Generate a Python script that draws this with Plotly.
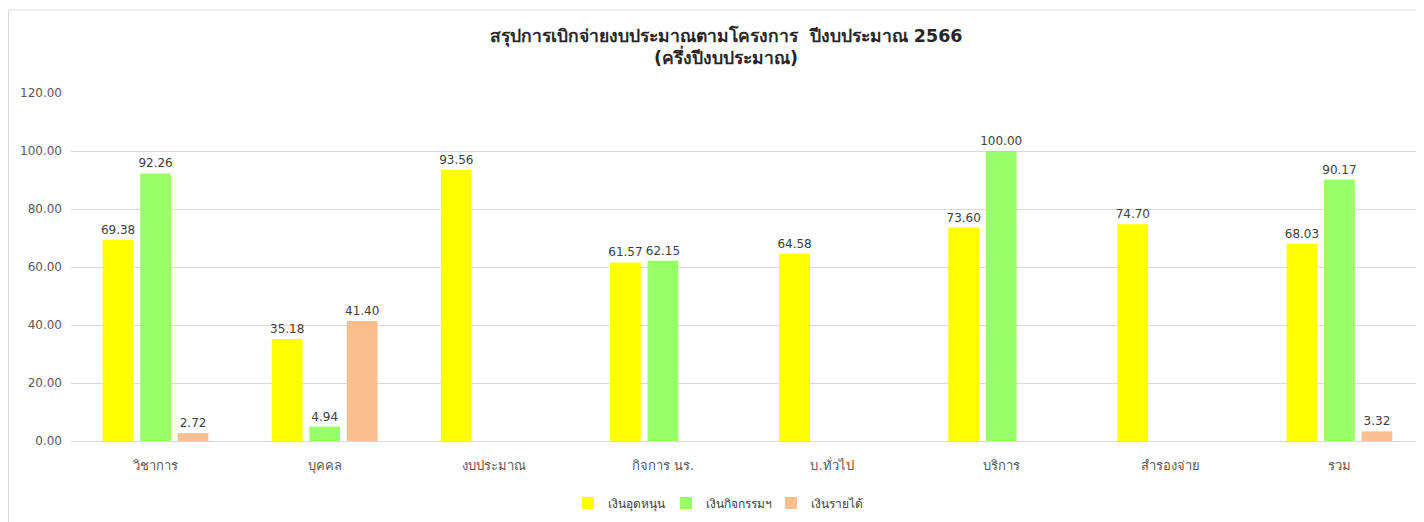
import plotly.graph_objects as go

categories = ["วิชาการ", "บุคคล", "งบประมาณ", "กิจการ นร.", "บ.ทั่วไป", "บริการ", "สำรองจ่าย", "รวม"]
series_names = ["เงินอุดหนุน", "เงินกิจกรรมฯ", "เงินรายได้"]
subsidy = [69.38, 35.18, 93.56, 61.57, 64.58, 73.60, 74.70, 68.03]
activity = [92.26, 4.94, None, 62.15, None, 100.00, None, 90.17]
income = [2.72, 41.40, None, None, None, None, None, 3.32]
colors = ["#FFFF00", "#99FF66", "#FBBF8F"]
yticks = [0, 20, 40, 60, 80, 100, 120]

font_family = "'DejaVu Sans', Tahoma, Verdana, 'Noto Sans', sans-serif"

W, H = 1416, 514
ML, MT, MB, MR = 63, 85, 81, 0
PW, PH = W - ML - MR, H - MT - MB

legend_ids = ["legend", "legend2", "legend3"]
legend_square_px = [582, 680, 785]  # page x of each legend swatch

fig = go.Figure()
for name, vals, col, lg in zip(series_names, [subsidy, activity, income], colors, legend_ids):
    fig.add_trace(go.Bar(
        x=categories, y=vals, name=name, marker_color=col, marker_line_width=0,
        text=[f"{v:.2f}" if v is not None else "" for v in vals],
        textposition="outside", cliponaxis=False, constraintext="none",
        textfont=dict(size=12, color="#404040", family=font_family),
        legend=lg,
    ))

legend_y = (MT + PH - 495) / PH
legend_layout = {}
for lg, px in zip(legend_ids, legend_square_px):
    legend_layout[lg] = dict(
        orientation="h", x=(px - 8 - ML - 14) / PW, xanchor="left",
        y=legend_y, yanchor="middle",
        font=dict(size=12, color="#404040", family=font_family),
        bgcolor="rgba(0,0,0,0)",
    )

fig.update_layout(
    width=W, height=H,
    margin=dict(l=ML, r=MR, t=MT, b=MB),
    paper_bgcolor="white", plot_bgcolor="white",
    barmode="group", bargap=0.335, bargroupgap=0.18,
    font=dict(family=font_family, color="#595959", size=13),
    title=dict(
        text="<b>สรุปการเบิกจ่ายงบประมาณตามโครงการ  ปีงบประมาณ 2566<br>(ครึ่งปีงบประมาณ)</b>",
        x=718 / W, xanchor="center", y=1 - 33.5 / H, yanchor="middle",
        font=dict(size=17.5, color="#262626", family=font_family),
    ),
    showlegend=True,
    **legend_layout,
)
fig.update_yaxes(range=[0, 120], tickvals=yticks, ticktext=[f"{v:.2f}" for v in yticks],
                 showgrid=True, gridcolor="#D9D9D9", gridwidth=1, zeroline=False,
                 showline=False, ticks="", ticklabelstandoff=8,
                 tickfont=dict(size=12, color="#595959", family=font_family))
fig.update_xaxes(showgrid=False, showline=True, linecolor="#D9D9D9", linewidth=1,
                 ticks="", tickfont=dict(size=13, color="#595959"), ticklabelstandoff=12)

fig.add_shape(type="rect", xref="paper", yref="paper",
              x0=(0.5 - ML) / PW, x1=1.02, y0=-0.3, y1=(MT + PH - 2) / PH,
              line=dict(color="#D9D9D9", width=1), fillcolor="rgba(0,0,0,0)", layer="below")

fig.write_html("out.html")
